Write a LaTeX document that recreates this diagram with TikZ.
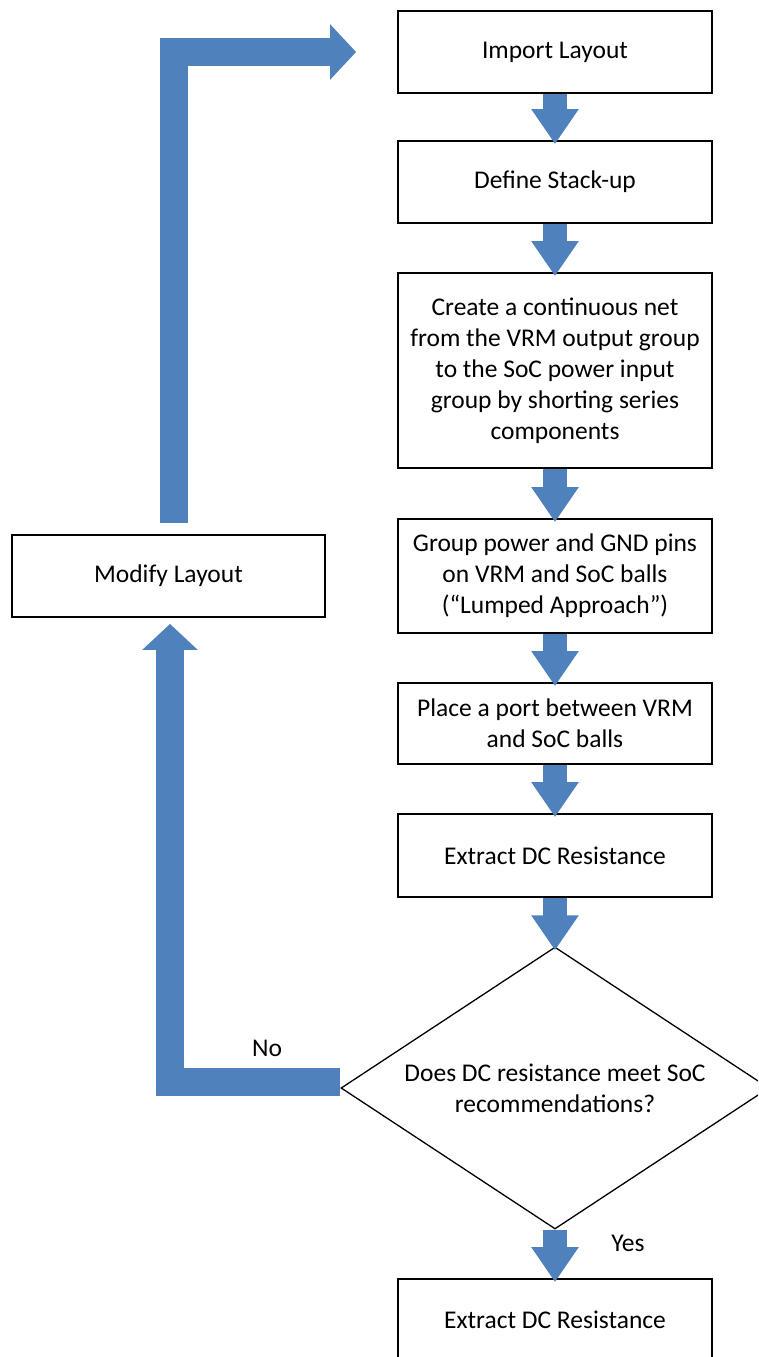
\documentclass[tikz,border=0pt]{standalone}
\usepackage{fontspec}
\setmainfont{Carlito}
\usepackage{tikz}
\usetikzlibrary{shapes.geometric,arrows.meta}

\definecolor{flowblue}{RGB}{79,129,189}
\newcommand{\flowfont}{\fontsize{25.5}{31}\selectfont}

\tikzset{
  stepbox/.style={draw, line width=1.8pt, minimum width=314pt, minimum height=82pt,
    align=center, inner sep=0pt, font=\flowfont},
  decisionbox/.style={draw, diamond, aspect=1.52, line width=1.3pt, minimum width=428pt,
    minimum height=282pt, align=center, inner sep=0pt, font=\flowfont},
  smallflow/.style={draw=flowblue, line width=24pt, shorten >=-4pt,
    -{Triangle[width=45pt,length=35pt]}},
  bigflow/.style={draw=flowblue, line width=28pt, line join=miter,
    -{Triangle[width=54pt,length=26pt]}},
  flowlabel/.style={inner sep=0pt, font=\flowfont}
}

\begin{document}
\begin{tikzpicture}[x=1pt,y=-1pt]
				\clip (0,0) rectangle (758,1357);
				
				% main column
				\node [stepbox] (import) at (555,52) {Import Layout};
				\node [stepbox] (define) at (555,182) {Define Stack-up};
				\node [stepbox, minimum height=195pt] (create) at (555,370.5) {Create a continuous net\\from the VRM output group\\to the SoC power input\\group by shorting series\\components};
				\node [stepbox, minimum height=114pt] (group) at (555,576) {Group power and GND pins\\on VRM and SoC balls\\(“Lumped Approach”)};
				\node [stepbox, minimum height=81pt] (place) at (555,723.5) {Place a port between VRM\\and SoC balls};
				\node [stepbox, minimum height=83pt] (extract) at (555,855.5) {Extract DC Resistance};
				\node [decisionbox] (decision) at (555,1088) {Does DC resistance meet SoC\\recommendations?};
				\node [stepbox] (final) at (555,1320) {Extract DC Resistance};
				
				% loop back
				\node [stepbox, minimum width=313pt] (modify) at (168.5,576) {Modify Layout};
				
				\draw [smallflow] (import.south) -- (define.north);
				\draw [smallflow] (define.south) -- (create.north);
				\draw [smallflow] (create.south) -- (group.north);
				\draw [smallflow] (group.south) -- (place.north);
				\draw [smallflow] (place.south) -- (extract.north);
				\draw [smallflow] (extract.south) -- (decision.north);
				\draw [smallflow] (decision.south) -- (final.north);
				
				\draw [bigflow] ([yshift=6pt]decision.west) -| ([xshift=1.5pt,yshift=-6pt]modify.south);
				\draw [bigflow] ([xshift=5pt,yshift=11pt]modify.north) |- ([xshift=-41pt]import.west);
				
				\node [flowlabel] (nolabel) at (267,1048) {No};
				\node [flowlabel] (yeslabel) at (628,1243) {Yes};
\end{tikzpicture}
\end{document}
